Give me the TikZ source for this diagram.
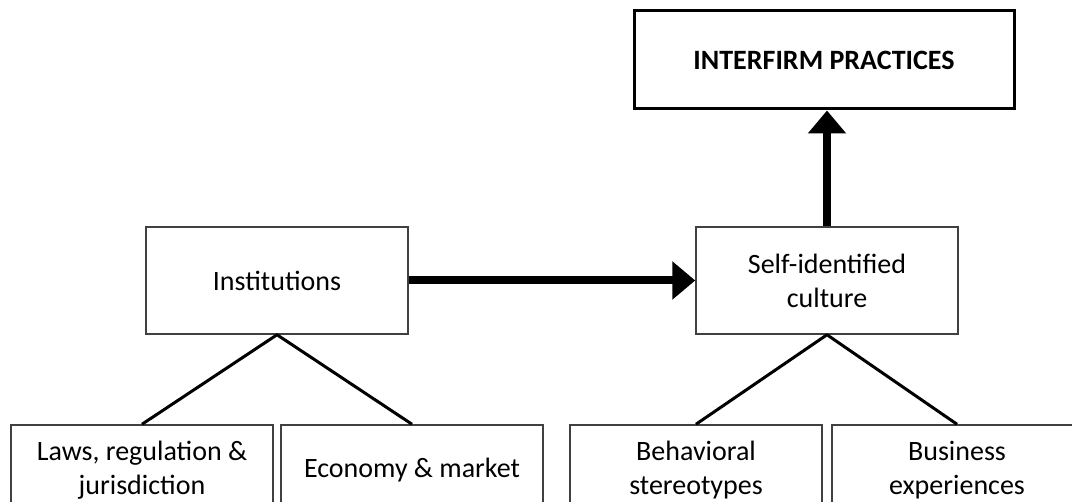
\documentclass[tikz,border=0pt]{standalone}
\usepackage{fontspec}
\setmainfont{Carlito}
\usepackage{tikz}
\usetikzlibrary{arrows.meta}
\tikzset{
    factor/.style={draw=black!75, line width=1.5pt, minimum width=262pt, minimum height=107pt,
        inner sep=0pt, align=center, font=\fontsize{28}{34}\selectfont},
    subfactor/.style={factor, minimum height=90pt},
    flow/.style={line width=8pt, -{Triangle[length=23pt,width=37pt]}},
    branch/.style={line width=3pt, line join=round},
}

\begin{document}
\begin{tikzpicture}[x=1pt,y=-1pt]
            \useasboundingbox (0,0) rectangle (1072,502);
            \node[factor, draw=black, line width=3pt, minimum width=380pt, minimum height=98pt,
                font=\bfseries\fontsize{28}{34}\selectfont] (practices) at (824,60) {INTERFIRM PRACTICES};
            \node[factor] (inst) at (277,280.5) {Institutions};
            \node[factor] (culture) at (827,280.5) {Self-identified\\culture};
            \node[subfactor, minimum width=262pt] (laws) at (142,470) {Laws, regulation \&\\jurisdiction};
            \node[subfactor, minimum width=262pt] (economy) at (412,470) {Economy \& market};
            \node[subfactor, minimum width=252pt] (stereo) at (696,470) {Behavioral\\stereotypes};
            \node[subfactor, minimum width=250pt] (experience) at (957,470) {Business\\experiences};
            \draw[flow] (inst) -- (culture);
            \draw[flow] (culture.north) -- (culture.north |- practices.south);
            \draw[branch] (laws.north) -- (inst.south) -- (economy.north);
            \draw[branch] (stereo.north) -- (culture.south) -- (experience.north);
        \end{tikzpicture}
\end{document}
